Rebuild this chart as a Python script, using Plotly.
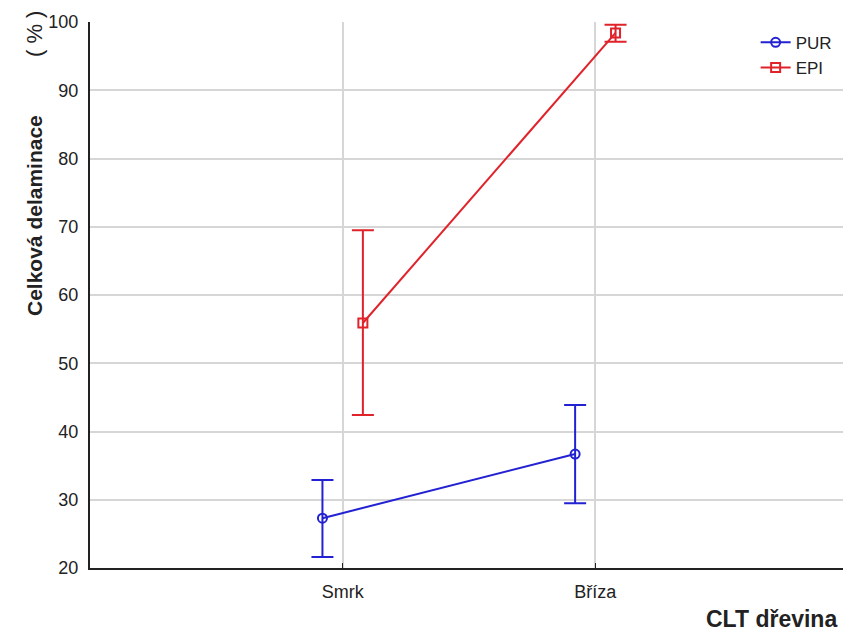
import plotly.graph_objects as go

categories = ["Smrk", "Bříza"]
cat_pos = [1, 2]
pur_mean = [27.3, 36.7]
pur_upper = [32.9, 43.9]
pur_lower = [21.6, 29.5]
epi_mean = [55.9, 98.4]
epi_upper = [69.5, 99.6]
epi_lower = [42.4, 97.1]
offset = 0.08

W, H = 843, 624
ML, MR, MT, MB = 82, 3, 14, 64
PW, PH = W - ML - MR, H - MT - MB

fig = go.Figure()

def add_series(name, mean, up, lo, color, symbol, shift):
    fig.add_trace(go.Scatter(
        x=[p + shift for p in cat_pos], y=mean, name=name, mode="lines+markers",
        line=dict(color=color, width=2),
        marker=dict(symbol=symbol, size=9, color=color, line=dict(color=color, width=2)),
        error_y=dict(type="data", symmetric=False,
                     array=[u - m for u, m in zip(up, mean)],
                     arrayminus=[m - l for m, l in zip(mean, lo)],
                     color=color, thickness=2, width=11),
    ))

add_series("PUR", pur_mean, pur_upper, pur_lower, "#2222d2", "circle-open", -offset)
add_series("EPI", epi_mean, epi_upper, epi_lower, "#e0222a", "square-open", offset)

fig.update_layout(
    width=W, height=H,
    margin=dict(l=ML, r=MR, t=MT, b=MB),
    plot_bgcolor="white", paper_bgcolor="white",
    font=dict(family="Liberation Sans, Arial, sans-serif", size=18, color="#222"),
    showlegend=True,
    legend=dict(x=0.985, y=0.995, xanchor="right", yanchor="top",
                bgcolor="rgba(255,255,255,0)", font=dict(size=17),
                tracegroupgap=0, itemwidth=30),
    xaxis=dict(range=[0, 3], tickmode="array", tickvals=cat_pos, ticktext=categories,
               showgrid=True, gridcolor="#d6d6d6", gridwidth=2,
               showline=True, linecolor="#222", linewidth=2, mirror=False,
               ticks="inside", ticklen=5, tickcolor="#222", zeroline=False,
               ticklabelstandoff=6),
    yaxis=dict(range=[20, 100], tickvals=[20, 30, 40, 50, 60, 70, 80, 90, 100],
               showgrid=True, gridcolor="#d6d6d6", gridwidth=2,
               showline=True, linecolor="#222", linewidth=2,
               ticks="", zeroline=False, ticklabelstandoff=6),
)

def py(px_from_top):
    return 1 - (px_from_top - MT) / PH

def px(px_from_left):
    return (px_from_left - ML) / PW

# y-axis title (reference coords minus 8px page offset)
fig.add_annotation(text="<b>Celková delaminace</b>", xref="paper", yref="paper",
                   x=px(34 - 8), y=py(216 - 8), xanchor="center", yanchor="middle",
                   textangle=-90, showarrow=False, font=dict(size=21, color="#222"))
fig.add_annotation(text="( % )", xref="paper", yref="paper",
                   x=px(34 - 8), y=py(34 - 8), xanchor="center", yanchor="middle",
                   textangle=-90, showarrow=False, font=dict(size=22, color="#222"))

fig.add_annotation(text="<b>CLT dřevina</b>", xref="paper", yref="paper",
                   x=px(839 - 8), y=py(619 - 8), xanchor="right", yanchor="middle",
                   showarrow=False, font=dict(size=23, color="#222"))

fig.write_html("out.html")
